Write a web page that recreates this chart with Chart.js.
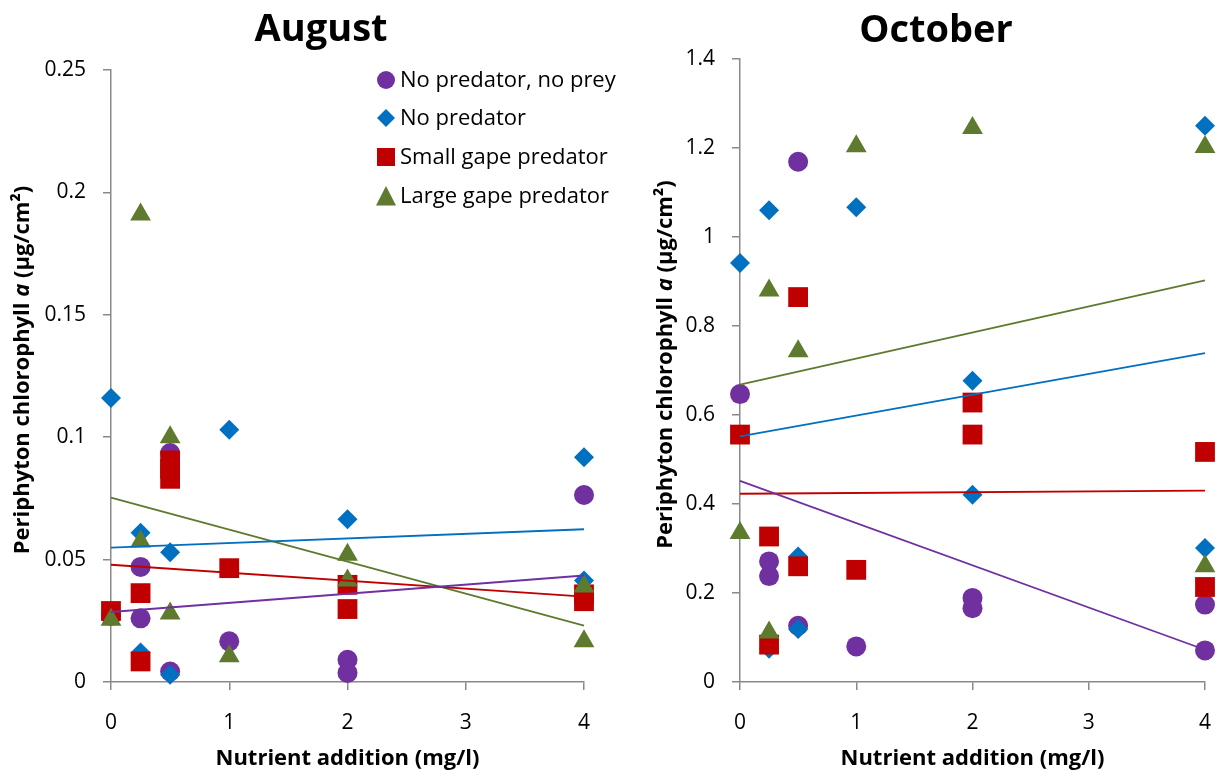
<!DOCTYPE html>
<html>
<head>
<meta charset="utf-8">
<script src="https://cdn.jsdelivr.net/npm/chart.js@4.4.1/dist/chart.umd.min.js"></script>
<style>
  html, body { margin: 0; background: #fff; }
  #wrap { position: relative; width: 1216px; height: 773px; }
  .panel { position: absolute; top: 0; height: 773px; }
</style>
</head>
<body>
<div id="wrap">
  <div class="panel" style="left:0;width:640px"><canvas id="augChart" width="640" height="773"></canvas></div>
  <div class="panel" style="left:608px;width:608px"><canvas id="octChart" width="608" height="773"></canvas></div>
</div>
<script>
// series meta
const seriesNames = ['No predator, no prey', 'No predator', 'Small gape predator', 'Large gape predator'];
const seriesColors = ['#7030A0', '#0070C0', '#C00000', '#5E7A2E'];
const seriesShapes = ['circle', 'rectRot', 'rect', 'triangle'];
const seriesRadius = [10, 10, 14, 12];

const xTicks = [0, 1, 2, 3, 4];
const trendX = [0, 4];

// August
const augNoneX = [0, 0.25, 0.25, 0.5, 0.5, 1, 2, 2, 4];
const augNoneY = [0.027, 0.047, 0.026, 0.0935, 0.0043, 0.0166, 0.0091, 0.0037, 0.0764];
const augNoPredX = [0, 0.25, 0.25, 0.5, 0.5, 1, 2, 4, 4];
const augNoPredY = [0.116, 0.061, 0.012, 0.053, 0.003, 0.103, 0.0665, 0.0918, 0.0415];
const augSmallX = [0, 0.25, 0.25, 0.5, 0.5, 0.5, 1, 2, 2, 4, 4];
const augSmallY = [0.029, 0.0363, 0.0084, 0.0905, 0.087, 0.083, 0.0465, 0.0397, 0.0298, 0.0358, 0.033];
const augLargeX = [0, 0.25, 0.25, 0.5, 0.5, 1, 2, 2, 4, 4];
const augLargeY = [0.0254, 0.191, 0.0574, 0.1, 0.028, 0.0105, 0.052, 0.0415, 0.039, 0.0166];
const augTrendNone = [0.0286, 0.0435];
const augTrendNoPred = [0.0549, 0.0624];
const augTrendSmall = [0.0479, 0.0349];
const augTrendLarge = [0.0753, 0.023];
const augYTicks = [0, 0.05, 0.1, 0.15, 0.2, 0.25];

// October
const octNoneX = [0, 0.25, 0.25, 0.5, 0.5, 1, 2, 2, 4, 4];
const octNoneY = [0.647, 0.271, 0.238, 1.169, 0.1265, 0.08, 0.189, 0.166, 0.174, 0.071];
const octNoPredX = [0, 0.25, 0.25, 0.5, 0.5, 1, 2, 2, 4, 4];
const octNoPredY = [0.9415, 1.06, 0.075, 0.282, 0.119, 1.067, 0.677, 0.421, 1.25, 0.301];
const octSmallX = [0, 0.25, 0.25, 0.5, 0.5, 1, 2, 2, 4, 4];
const octSmallY = [0.556, 0.327, 0.084, 0.865, 0.26, 0.252, 0.628, 0.556, 0.517, 0.2135];
const octLargeX = [0, 0.25, 0.25, 0.5, 1, 2, 4, 4];
const octLargeY = [0.335, 0.88, 0.111, 0.743, 1.204, 1.245, 1.202, 0.26];
const octTrendNone = [0.452, 0.0725];
const octTrendNoPred = [0.552, 0.739];
const octTrendSmall = [0.423, 0.43];
const octTrendLarge = [0.668, 0.9025];
const octYTicks = [0, 0.2, 0.4, 0.6, 0.8, 1, 1.2, 1.4];

const axisColor = '#898989';
const fontFamily = '"Open Sans", "DejaVu Sans", sans-serif';

function pts(xs, ys) {
  return xs.map((x, i) => ({ x, y: ys[i] }));
}

function buildDatasets(groups, trends) {
  const sets = [];
  groups.forEach((g, i) => {
    sets.push({
      type: 'scatter',
      label: seriesNames[i],
      data: pts(g[0], g[1]),
      pointStyle: seriesShapes[i],
      pointRadius: seriesRadius[i],
      pointBackgroundColor: seriesColors[i],
      pointBorderWidth: 0,
      clip: false,
      order: 4 - i + 1,
    });
  });
  trends.forEach((t, i) => {
    sets.push({
      type: 'line',
      label: seriesNames[i] + ' trend',
      data: pts(trendX, t),
      borderColor: seriesColors[i],
      borderWidth: 1.8,
      pointRadius: 0,
      fill: false,
      clip: false,
      order: 0,
    });
  });
  return sets;
}

function drawMarker(ctx, shape, x, y, r) {
  ctx.beginPath();
  if (shape === 'circle') {
    ctx.arc(x, y, r, 0, Math.PI * 2);
  } else if (shape === 'rectRot') {
    ctx.moveTo(x, y - r); ctx.lineTo(x + r, y); ctx.lineTo(x, y + r); ctx.lineTo(x - r, y);
  } else if (shape === 'rect') {
    ctx.rect(x - r, y - r, 2 * r, 2 * r);
  } else {
    ctx.moveTo(x, y - r); ctx.lineTo(x + r, y + r * 0.95); ctx.lineTo(x - r, y + r * 0.95);
  }
  ctx.closePath();
  ctx.fill();
}

// titles, y-axis title with italic "a", x title, legend
const decorPlugin = {
  id: 'decor',
  afterDraw(chart, args, opts) {
    const { ctx, chartArea } = chart;
    ctx.save();
    ctx.fillStyle = '#000';
    ctx.textAlign = 'center';
    ctx.textBaseline = 'alphabetic';
    ctx.font = `bold 38px ${fontFamily}`;
    ctx.fillText(opts.title, opts.titleX, opts.titleY);

    ctx.font = `bold 22px ${fontFamily}`;
    ctx.fillText('Nutrient addition (mg/l)', (chartArea.left + chartArea.right) / 2, 765);

    const segs = [
      ['Periphyton chlorophyll ', `bold 22px ${fontFamily}`],
      ['a', `italic bold 22px ${fontFamily}`],
      [' (µg/cm²)', `bold 22px ${fontFamily}`],
    ];
    let total = 0;
    segs.forEach(s => { ctx.font = s[1]; total += ctx.measureText(s[0]).width; });
    ctx.translate(opts.yTitleX, (chartArea.top + chartArea.bottom) / 2 - 6);
    ctx.rotate(-Math.PI / 2);
    ctx.textAlign = 'left';
    ctx.textBaseline = 'middle';
    let cx = -total / 2;
    segs.forEach(s => { ctx.font = s[1]; ctx.fillText(s[0], cx, 0); cx += ctx.measureText(s[0]).width; });
    ctx.restore();

    if (opts.legend) {
      ctx.save();
      ctx.font = `22px ${fontFamily}`;
      ctx.textAlign = 'left';
      ctx.textBaseline = 'middle';
      const rows = [80, 118, 157, 196];
      const sizes = [9, 9, 9, 10];
      seriesNames.forEach((name, i) => {
        ctx.fillStyle = seriesColors[i];
        drawMarker(ctx, seriesShapes[i], 386, rows[i], sizes[i]);
        ctx.fillStyle = '#000';
        ctx.fillText(name, 400, rows[i] + 1);
      });
      ctx.restore();
    }
  }
};

function makeChart(id, cfg) {
  return new Chart(document.getElementById(id), {
    data: { datasets: buildDatasets(cfg.groups, cfg.trends) },
    options: {
      responsive: false,
      animation: false,
      events: [],
      layout: { autoPadding: false, padding: { top: cfg.padTop, right: cfg.padRight, left: 0, bottom: 0 } },
      plugins: {
        legend: { display: false },
        tooltip: { enabled: false },
        decor: cfg.decor,
      },
      scales: {
        x: {
          type: 'linear', min: 0, max: 4,
          afterBuildTicks: s => { s.ticks = xTicks.map(v => ({ value: v })); },
          afterFit: s => { s.height = 91; s.paddingLeft = 0; s.paddingRight = 0; },
          grid: { drawOnChartArea: false, drawTicks: true, tickLength: 8, color: axisColor, lineWidth: 1.5 },
          border: { color: axisColor, width: 1.5 },
          ticks: { color: '#000', font: { family: fontFamily, size: 21 }, padding: 20, callback: v => String(v) },
        },
        y: {
          type: 'linear', min: 0, max: cfg.yMax,
          afterBuildTicks: s => { s.ticks = cfg.yTicks.map(v => ({ value: v })); },
          afterFit: s => { s.width = cfg.yWidth; s.paddingTop = 0; s.paddingBottom = 0; },
          grid: { drawOnChartArea: false, drawTicks: true, tickLength: 8, color: axisColor, lineWidth: 1.5 },
          border: { color: axisColor, width: 1.5 },
          ticks: { color: '#000', font: { family: fontFamily, size: 21 }, padding: 17, callback: v => String(+v.toFixed(4)) },
        },
      },
    },
    plugins: [decorPlugin],
  });
}

makeChart('augChart', {
  groups: [[augNoneX, augNoneY], [augNoPredX, augNoPredY], [augSmallX, augSmallY], [augLargeX, augLargeY]],
  trends: [augTrendNone, augTrendNoPred, augTrendSmall, augTrendLarge],
  yMax: 0.25, yTicks: augYTicks, yWidth: 111, padTop: 70, padRight: 56,
  decor: { title: 'August', titleX: 321, titleY: 41, yTitleX: 23, legend: true },
});

makeChart('octChart', {
  groups: [[octNoneX, octNoneY], [octNoPredX, octNoPredY], [octSmallX, octSmallY], [octLargeX, octLargeY]],
  trends: [octTrendNone, octTrendNoPred, octTrendSmall, octTrendLarge],
  yMax: 1.4, yTicks: octYTicks, yWidth: 132, padTop: 59, padRight: 11,
  decor: { title: 'October', titleX: 328, titleY: 42, yTitleX: 58, legend: false },
});
</script>
</body>
</html>
